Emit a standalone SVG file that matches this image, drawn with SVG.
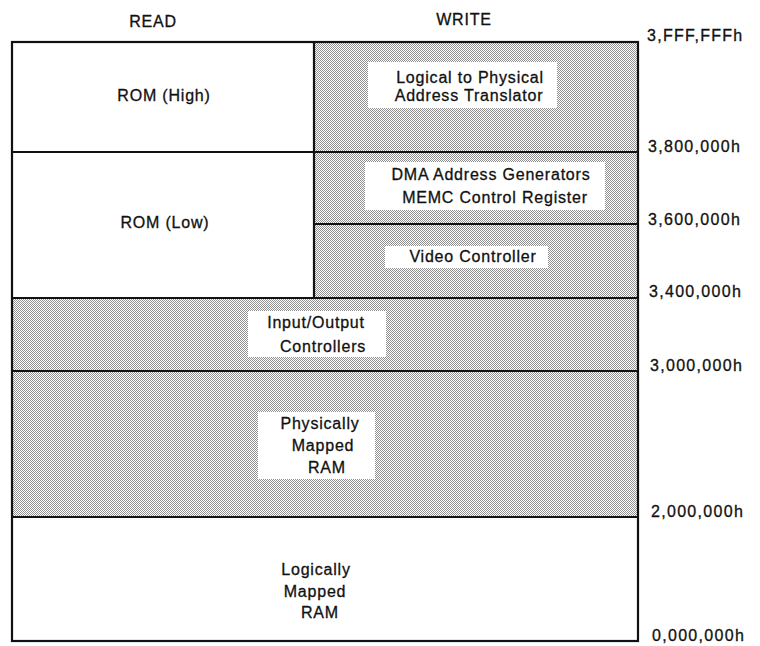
<svg xmlns="http://www.w3.org/2000/svg" width="760" height="646" viewBox="0 0 760 646">
  <defs>
    <pattern id="dither" patternUnits="userSpaceOnUse" width="2" height="2">
      <rect width="2" height="2" fill="#ffffff"/>
      <rect x="0" y="0" width="1" height="1" fill="#909090"/>
      <rect x="1" y="1" width="1" height="1" fill="#909090"/>
    </pattern>
  </defs>
  <style>
    text { font-family: "Liberation Sans", Arial, Helvetica, sans-serif; font-size: 16px; letter-spacing: 0.8px; fill: #111; stroke: #111; stroke-width: 0.3; }
    .c { text-anchor: middle; }
    .addr { text-anchor: start; letter-spacing: 1.3px; }
    .gray { fill: url(#dither); stroke: none; }
    .white { fill: #ffffff; stroke: none; }
    .line { stroke: #111; stroke-width: 2.2; fill: none; }
    .lab { fill: #ffffff; stroke: none; }
  </style>

  <rect width="760" height="646" fill="#ffffff"/>

  <!-- headers -->
  <g id="headers">
    <text class="c" x="153" y="27">READ</text>
    <text class="c" x="464" y="25">WRITE</text>
  </g>

  <!-- regions -->
  <g id="rom-high">
    <rect class="white" x="12" y="42" width="302" height="110"/>
    <text class="c" x="164" y="101">ROM (High)</text>
  </g>
  <g id="rom-low">
    <rect class="white" x="12" y="152" width="302" height="146"/>
    <text class="c" x="165" y="228">ROM (Low)</text>
  </g>
  <g id="translator">
    <rect class="gray" x="314" y="42" width="324" height="110"/>
    <rect class="lab" x="368" y="62" width="189" height="46"/>
    <text class="c" x="470" y="83">Logical to Physical</text>
    <text class="c" x="469" y="101">Address Translator</text>
  </g>
  <g id="dma-memc">
    <rect class="gray" x="314" y="152" width="324" height="72"/>
    <rect class="lab" x="365" y="162" width="240" height="48"/>
    <text class="c" x="491" y="180">DMA Address Generators</text>
    <text class="c" x="495" y="203">MEMC Control Register</text>
  </g>
  <g id="video">
    <rect class="gray" x="314" y="224" width="324" height="74"/>
    <rect class="lab" x="385" y="246" width="163" height="22"/>
    <text class="c" x="473" y="262">Video Controller</text>
  </g>
  <g id="io">
    <rect class="gray" x="12" y="298" width="626" height="73"/>
    <rect class="lab" x="248" y="311" width="138" height="46"/>
    <text class="c" x="316" y="328">Input/Output</text>
    <text class="c" x="323" y="352">Controllers</text>
  </g>
  <g id="physical-ram">
    <rect class="gray" x="12" y="371" width="626" height="146"/>
    <rect class="lab" x="258" y="412" width="117" height="67"/>
    <text class="c" x="320" y="429">Physically</text>
    <text class="c" x="323" y="451">Mapped</text>
    <text class="c" x="327" y="473">RAM</text>
  </g>
  <g id="logical-ram">
    <rect class="white" x="12" y="517" width="626" height="124"/>
    <text class="c" x="316" y="575">Logically</text>
    <text class="c" x="315" y="597">Mapped</text>
    <text class="c" x="320" y="618">RAM</text>
  </g>

  <!-- boundaries -->
  <g id="connectors">
    <rect class="line" x="12" y="42" width="626" height="599"/>
    <line class="line" x1="314" y1="42" x2="314" y2="298"/>
    <line class="line" x1="12" y1="152" x2="638" y2="152"/>
    <line class="line" x1="314" y1="224" x2="638" y2="224"/>
    <line class="line" x1="12" y1="298" x2="638" y2="298"/>
    <line class="line" x1="12" y1="371" x2="638" y2="371"/>
    <line class="line" x1="12" y1="517" x2="638" y2="517"/>
  </g>

  <!-- address labels -->
  <g id="addresses">
    <text class="addr" x="647" y="41">3,FFF,FFFh</text>
    <text class="addr" x="648" y="152">3,800,000h</text>
    <text class="addr" x="648" y="225">3,600,000h</text>
    <text class="addr" x="649" y="297">3,400,000h</text>
    <text class="addr" x="650" y="371">3,000,000h</text>
    <text class="addr" x="651" y="517">2,000,000h</text>
    <text class="addr" x="652" y="641">0,000,000h</text>
  </g>
</svg>
